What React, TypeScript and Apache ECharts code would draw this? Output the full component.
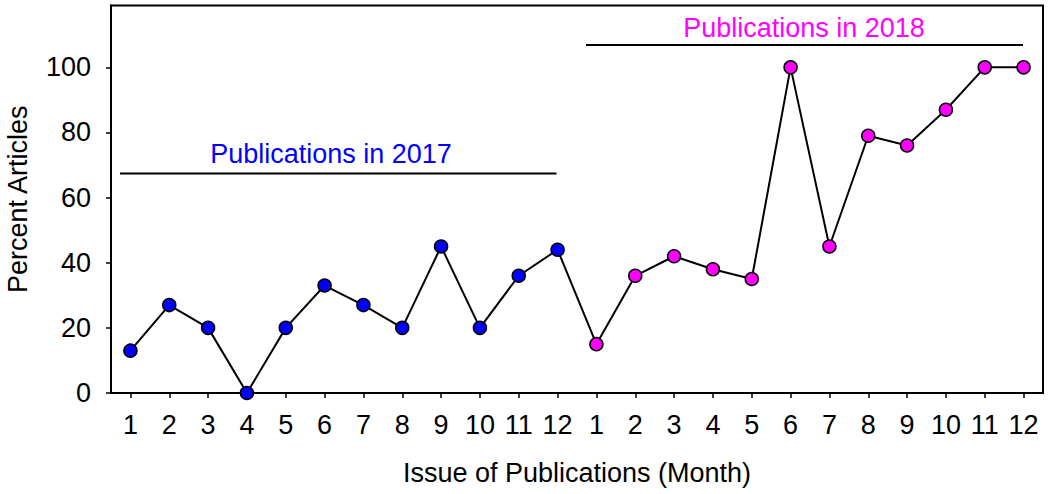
import React, { useEffect, useRef } from "react";
import * as echarts from "echarts";

const months = ["1","2","3","4","5","6","7","8","9","10","11","12","1","2","3","4","5","6","7","8","9","10","11","12"];
const values2017 = [13, 27, 20, 0, 20, 33, 27, 20, 45, 20, 36, 44];
const values2018 = [15, 36, 42, 38, 35, 100, 45, 79, 76, 87, 100, 100];
const yTicks = [0, 20, 40, 60, 80, 100];
const color2017 = "#0000FF";
const color2018 = "#FF00FF";
const FONT = "'Liberation Sans', Arial, sans-serif";

export default function App() {
  const ref = useRef<HTMLDivElement>(null);
  useEffect(() => {
    if (!ref.current) return;
    const chart = echarts.init(ref.current, null, { renderer: "svg" });
    const data = [
      ...values2017.map((v) => ({ value: v, itemStyle: { color: color2017 } })),
      ...values2018.map((v) => ({ value: v, itemStyle: { color: color2018 } })),
    ];
    chart.setOption({
      animation: false,
      backgroundColor: "#fff",
      textStyle: { fontFamily: FONT },
      grid: {
        left: 111, right: 7, top: 5.5, bottom: 101,
        containLabel: false, outerBoundsMode: "none",
        show: true, borderColor: "#000", borderWidth: 2, backgroundColor: "transparent",
      },
      xAxis: {
        type: "category",
        data: months,
        boundaryGap: true,
        name: "Issue of Publications (Month)",
        nameLocation: "middle",
        nameGap: 66,
        nameTextStyle: { fontSize: 27, color: "#000", fontFamily: FONT },
        axisLine: { lineStyle: { color: "#000", width: 2 } },
        axisTick: { show: true, alignWithLabel: true, length: 5, lineStyle: { color: "#000", width: 1.5 } },
        axisLabel: { fontSize: 27, color: "#000", margin: 18, interval: 0, fontFamily: FONT },
        splitLine: { show: false },
      },
      yAxis: {
        type: "value",
        min: 0,
        max: 119,
        name: "Percent Articles",
        nameLocation: "middle",
        nameRotate: 90,
        nameGap: 80,
        nameTextStyle: { fontSize: 27, color: "#000", fontFamily: FONT },
        axisLine: { show: true, lineStyle: { color: "#000", width: 2 } },
        axisTick: { show: true, length: 5, customValues: yTicks, lineStyle: { color: "#000", width: 1.5 } },
        axisLabel: { fontSize: 27, color: "#000", margin: 20, customValues: yTicks, fontFamily: FONT },
        splitLine: { show: false },
      },
      series: [
        {
          type: "line",
          data,
          symbol: "circle",
          symbolSize: 13,
          lineStyle: { color: "#000", width: 2 },
          itemStyle: { borderColor: "#000", borderWidth: 1.5 },
          z: 3,
        },
      ],
      graphic: [
        { type: "line", shape: { x1: 120, y1: 173.5, x2: 556.5, y2: 173.5 }, style: { stroke: "#000", lineWidth: 2 } },
        { type: "line", shape: { x1: 586, y1: 45, x2: 1023, y2: 45 }, style: { stroke: "#000", lineWidth: 2 } },
        {
          type: "text", x: 331, y: 154,
          style: { text: "Publications in 2017", fill: color2017, fontSize: 27, fontFamily: FONT, align: "center", verticalAlign: "middle" },
        },
        {
          type: "text", x: 804, y: 27.5,
          style: { text: "Publications in 2018", fill: color2018, fontSize: 27, fontFamily: FONT, align: "center", verticalAlign: "middle" },
        },
      ],
    });
    return () => chart.dispose();
  }, []);
  return <div ref={ref} style={{ position: "fixed", left: 0, top: 0, width: 1050, height: 494 }} />;
}
